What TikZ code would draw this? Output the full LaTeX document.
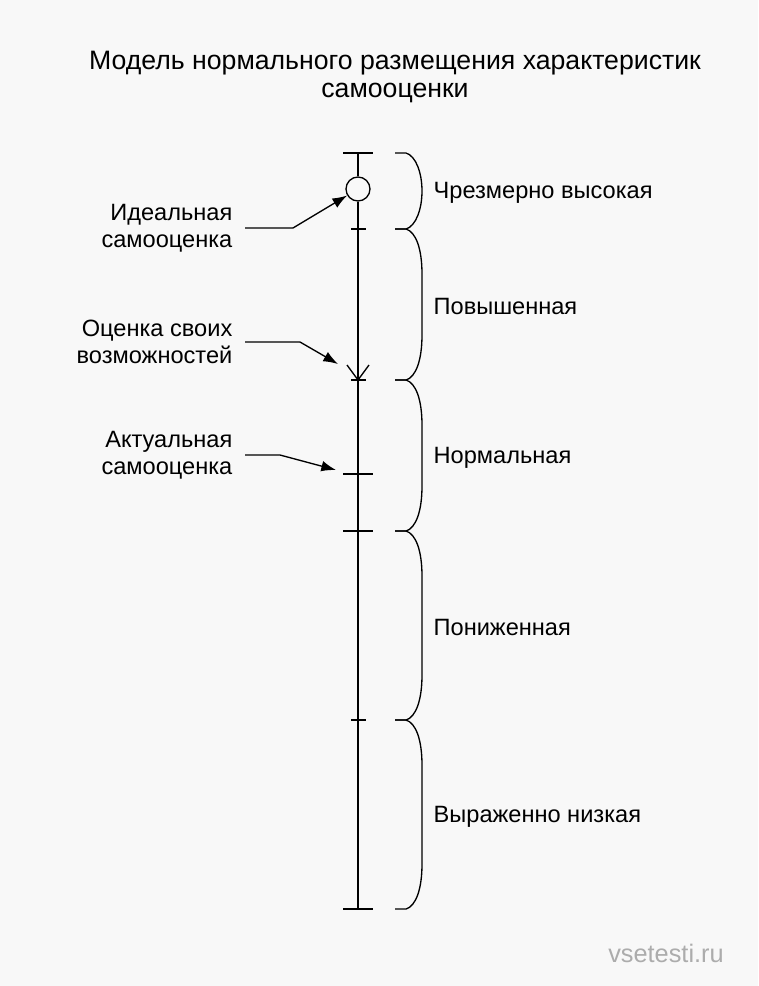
\documentclass[tikz,border=0pt]{standalone}
\usepackage{fontspec}
\setmainfont{Liberation Sans}
\usetikzlibrary{arrows.meta, positioning}
\definecolor{pagebg}{RGB}{248,248,248}

\begin{document}
\begin{tikzpicture}[x=0.75pt, y=-0.75pt, line width=1pt,
    every node/.style={font=\fontsize{17.7}{20}\selectfont, inner sep=0pt},
    lbl/.style={align=right, anchor=east, inner xsep=9pt},
    zone/.style={anchor=west},
    arr/.style={-{Latex[length=11pt, width=8pt]}}]

    \fill[pagebg] (0,0) rectangle (758,986);
    \useasboundingbox (0,0) rectangle (758,986);

    \node (title) at (395,77) [align=center, font=\fontsize{20}{21}\selectfont]
        {Модель нормального размещения характеристик\\самооценки};

    % scale
    \coordinate (top) at (358,153);
    \coordinate (bot) at (358,909);
    \node (ideal) at (358,189) [circle, draw, fill=pagebg, minimum size=18pt] {};
    \draw[line width=1.2pt] (top) -- (ideal.north);
    \draw[line width=1.2pt] (ideal.south) -- (bot);
    \foreach \y in {153,474,531,909}
        \draw (343,\y) -- (373,\y);
    \foreach \y in {229,380,720}
        \draw (351,\y) -- (366,\y);
    \draw (347,365) -- (358,380) -- (369,365);

    % left labels
    \node (lid) at (245,228) [lbl] {Идеальная\\самооценка};
    \draw[arr] (lid.east) -- ++(48,0) -- (ideal);

    \node (lvoz) at (245,342) [lbl] {Оценка своих\\возможностей};
    \coordinate (voz) at (338,364);
    \draw[arr] (lvoz.east) -- ++(55,0) -- (voz);

    \node (lakt) at (245,455) [lbl] {Актуальная\\самооценка};
    \coordinate (akt) at (336,470);
    \draw[arr] (lakt.east) -- ++(35,0) -- (akt);

    % zones
    \foreach \ya/\yb/\nm/\txt in {153/229/chr/Чрезмерно высокая,
        229/380/pov/Повышенная, 380/531/norm/Нормальная,
        531/720/pon/Пониженная, 720/909/niz/Выраженно низкая}
    {
        \pgfmathsetmacro\k{min(45,(\yb-\ya)/2)}
        \draw (395,\ya) -- (406,\ya) .. controls (416,\ya+3) and (422,\ya+20) .. (422,\ya+\k)
            -- (422,\yb-\k) .. controls (422,\yb-20) and (416,\yb-3) .. (406,\yb) -- (395,\yb);
        \node (\nm) at (433,{(\ya+\yb)/2+2}) [zone] {\txt};
    }

    \node (wm) at (666,953) [text=gray!65, font=\fontsize{19}{20}\selectfont] {vsetesti.ru};
\end{tikzpicture}
\end{document}
